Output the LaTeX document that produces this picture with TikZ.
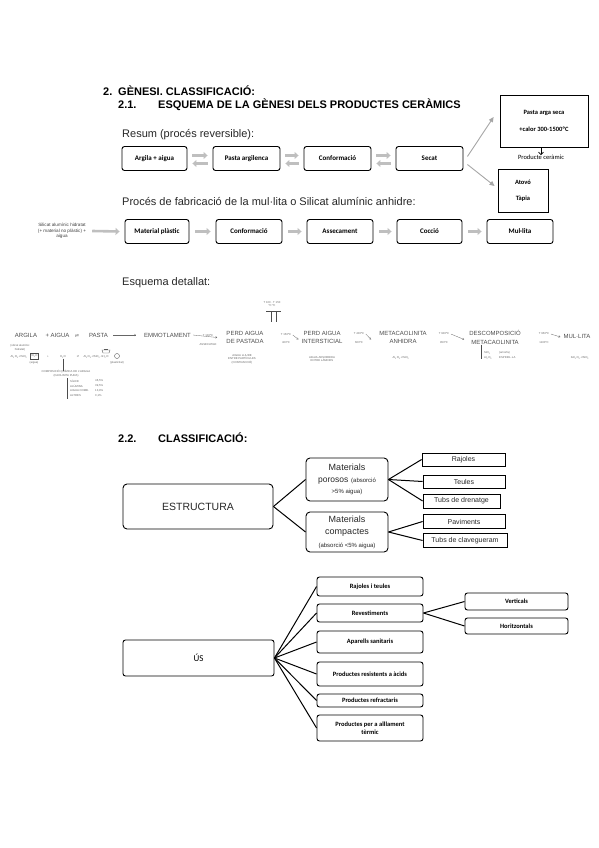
\documentclass[tikz,border=0pt]{standalone}
\usepackage{fontspec}
\setmainfont{Liberation Sans}
\newfontfamily\calf{Carlito}
\newfontfamily\djv{DejaVu Sans}
\usetikzlibrary{arrows.meta}
\begin{document}
\begin{tikzpicture}[x=1pt,y=-1pt,
  pbox/.style={draw, line width=0.9pt, rounded corners=2.5pt, inner sep=1pt, align=center, font=\calf\bfseries\fontsize{7}{8}\selectfont},
  sbox/.style={draw, line width=0.8pt, inner sep=1pt, align=center, font=\calf\bfseries\fontsize{6.5}{8}\selectfont},
  garr/.style={draw=black!25, line width=2.6pt, -{Triangle[length=4pt,width=7pt]}},
  darr/.style={draw=black!35, line width=0.9pt, -{Triangle[length=5pt,width=4.5pt]}},
  hd/.style={anchor=base west, inner sep=0pt, font=\bfseries\fontsize{11}{13}\selectfont},
  para/.style={anchor=base west, inner sep=0pt, font=\fontsize{11}{13}\selectfont, text=black!85},
  dw/.style={align=center, font=\fontsize{6}{8.5}\selectfont, text=black!70, inner sep=0pt},
  tw/.style={align=center, font=\fontsize{2.8}{3.6}\selectfont, text=black!60, inner sep=0pt},
  tarr/.style={draw=black!60, line width=0.3pt, -{Straight Barb[length=1.5pt,width=2pt]}},
  cbox/.style={draw, line width=0.9pt, rounded corners=4pt, align=center, inner sep=1pt, text=black!85},
  lbox/.style={draw, line width=0.8pt, align=center, inner sep=1pt, font=\fontsize{7}{8}\selectfont, text=black!85},
  ubox/.style={draw, line width=0.9pt, rounded corners=2.5pt, align=center, inner sep=1pt, font=\calf\bfseries\fontsize{6.5}{8}\selectfont},
  conn/.style={draw, line width=1pt},
]
\useasboundingbox (0,0) rectangle (599,848);

% ---------- headings ----------
\node[hd] (h1n) at (103,96) {2.};
\node[hd] (h1) at (118,96) {GÈNESI. CLASSIFICACIÓ:};
\node[hd] (h2n) at (118,109) {2.1.};
\node[hd] (h2) at (158,109) {ESQUEMA DE LA GÈNESI DELS PRODUCTES CERÀMICS};
\node[para] (r1) at (122,138) {Resum (procés reversible):};

% ---------- row 1 ----------
\node[pbox, minimum width=65pt, minimum height=24pt] (a1) at (154.5,158.5) {Argila + aigua};
\node[pbox, minimum width=67pt, minimum height=24pt] (a2) at (246.5,158.5) {Pasta argilenca};
\node[pbox, minimum width=67pt, minimum height=24pt] (a3) at (337.5,158.5) {Conformació};
\node[pbox, minimum width=67pt, minimum height=24pt] (a4) at (429.5,158.5) {Secat};
\foreach \u/\v in {a1/a2,a2/a3,a3/a4}{
  \draw[garr] ([xshift=5pt,yshift=3pt]\u.east) -- ([xshift=-5pt,yshift=3pt]\v.west);
  \draw[garr] ([xshift=-5pt,yshift=-5pt]\v.west) -- ([xshift=5pt,yshift=-5pt]\u.east);
}
\node[sbox, minimum width=88pt, minimum height=52pt] (p1) at (544,121) {Pasta arga seca\\[9pt]+calor 300-1500ºC};
\node[inner sep=0pt, font=\calf\fontsize{6.5}{7}\selectfont] (p2) at (541,157.5) {Producte ceràmic};
\draw[line width=0.6pt, -{Straight Barb[length=2.5pt,width=5pt]}] (p1.south -| p2.north) -- (p2.north);
\node[sbox, minimum width=50pt, minimum height=43pt] (p3) at (523,191) {Atovó\\[8pt]Tàpia};
\draw[darr] ([xshift=4pt,yshift=2pt]a4.east) -- ([xshift=-6pt,yshift=4pt]p1.west);
\draw[darr] ([xshift=4pt,yshift=-6pt]a4.east) -- ([xshift=-3pt,yshift=5pt]p3.west);

% ---------- row 2 ----------
\node[para] (r2) at (122,205) {Procés de fabricació de la mul·lita o Silicat alumínic anhidre:};
\node[align=center, inner sep=0pt, text=black!75, font=\fontsize{4.6}{5.6}\selectfont] (s0) at (62,231) {Silicat alumínic hidratat\\(+ material no plàstic) +\\aigua};
\node[pbox, minimum width=64pt, minimum height=24pt] (b1) at (157,231.5) {Material plàstic};
\node[pbox, minimum width=66pt, minimum height=24pt] (b2) at (249,231.5) {Conformació};
\node[pbox, minimum width=66pt, minimum height=24pt] (b3) at (340,231.5) {Assecament};
\node[pbox, minimum width=65pt, minimum height=24pt] (b4) at (429.5,231.5) {Cocció};
\node[pbox, minimum width=66pt, minimum height=24pt] (b5) at (520,231.5) {Mul·lita};
\draw[garr] ([xshift=6pt]s0.east) -- ([xshift=-5pt]b1.west);
\foreach \u/\v in {b1/b2,b2/b3,b3/b4,b4/b5}{
  \draw[garr] ([xshift=6pt]\u.east) -- ([xshift=-5pt]\v.west);
}

% ---------- detailed scheme ----------
\node[para] (r3) at (122,285) {Esquema detallat:};
\node[dw] (d1) at (26,335) {ARGILA};
\node[dw] (d2) at (57.5,335) {+ AIGUA};
\node[inner sep=0pt, text=black!60, font=\djv\fontsize{5}{6}\selectfont] (deq) at (77,335.5) {⇌};
\node[dw] (d3) at (98.5,335) {PASTA};
\node[dw] (d4) at (167.5,335) {EMMOTLAMENT};
\node[dw] (d5) at (245,337.5) {PERD AIGUA\\DE PASTADA};
\node[dw] (d6) at (322,337.5) {PERD AIGUA\\INTERSTICIAL};
\node[dw] (d7) at (403,337.5) {METACAOLINITA\\ANHIDRA};
\node[dw] (d8) at (495,337.5) {DESCOMPOSICIÓ\\METACAOLINITA};
\node[dw] (d9) at (577,336) {MUL·LITA};
\draw[tarr] ([xshift=5pt]d3.east) -- ([xshift=-8pt]d4.west);
% transition labels
\node[tw] (k1a) at (208,335.5) {T 100ºC};
\node[tw] (k1b) at (208,345) {ASSECATGE};
\draw[tarr] ([xshift=2pt]d4.east) -- ([xshift=-9pt]d5.west);
\node[tw] (k2a) at (286,335) {T 150ºC};
\node[tw] (k2b) at (286,343) {400ºC};
\draw[tarr] ([xshift=1.5pt]k2a.east) -- ([xshift=-3pt,yshift=-2pt]d6.west);
\node[tw] (k3a) at (359,334) {T 400ºC};
\node[tw] (k3b) at (359,343) {600ºC};
\draw[tarr] ([xshift=1.5pt]k3a.east) -- ([xshift=-8pt,yshift=-2pt]d7.west);
\node[tw] (k4a) at (444,334) {T 900ºC};
\node[tw] (k4b) at (444,343) {950ºC};
\draw[tarr] ([xshift=1.5pt]k4a.east) -- ([xshift=-5pt,yshift=-2pt]d8.west);
\node[tw] (k5a) at (544,334) {T 950ºC};
\node[tw] (k5b) at (544,343) {1100ºC};
\draw[tarr] ([xshift=1.5pt]k5a.east) -- ([xshift=-3pt,yshift=-1pt]d9.west);
% T-shaped mark above
\node[tw] (tq) at (272,304) {T 100 · T 150\\ºC ºC};
\coordinate (tb1) at (266,311);
\coordinate (tb2) at (281,311);
\draw[line width=0.5pt, black!70] (tb1) -- (tb2);
\draw[line width=0.5pt, black!70] (271,311) -- (271,322) (276,311) -- (276,322);
% under ARGILA
\node[tw] (u1) at (20,348) {(silicat alumínic\\hidratat)};
\node[tw] (u2) at (19,357) {Al\textsubscript{2}O\textsubscript{3}·2SiO\textsubscript{2}};
\node[draw=black!70, line width=0.4pt, minimum width=8pt, minimum height=6pt, inner sep=0pt, tw] (u3) at (34,356.5) {2H\textsubscript{2}O};
\node[tw] (u3b) at (34,363) {(aigua)};
\node[tw] (u4) at (48,357) {+};
\node[tw] (u5) at (63,357) {H\textsubscript{2}O};
\node[tw, font=\djv\fontsize{2.8}{3.6}\selectfont] (u6) at (78,357) {⇌};
\node[tw] (u7) at (96,357) {Al\textsubscript{2}O\textsubscript{3}·2SiO\textsubscript{2}·nH\textsubscript{2}O};
\draw[black!65, line width=0.4pt] (102,350) -- (110,350) -- (109,353) -- (103,353) -- cycle;
\draw[black!65, line width=0.4pt] (104,349) -- (108,349);
\node[draw=black!65, circle, line width=0.4pt, minimum size=5pt, inner sep=0pt] (u8) at (117,356) {};
\node[tw] (u8b) at (117,363) {(plasticitat)};
\draw[black!70, line width=0.5pt] (u5.south) -- ++(0,12) coordinate (u9);
\node[tw] (u10) at (66,373.5) {COMPOSICIÓ QUÍMICA DE L'ARGILA\\(CAOLINITA PURA)};
\coordinate (v1) at (67,378);
\coordinate (v2) at (67,399);
\draw[black!70, line width=0.6pt] (v1) -- (v2);
\foreach \yy/\aa/\bb in {381/SÍLICE/46{,}5\%,386/ALÚMINA/39{,}5\%,391/AIGUA COMB./13{,}9\%,396/ALTRES/0{,}1\%}{
  \node[tw, anchor=west] at (70,\yy) {\aa};
  \node[tw, anchor=west] at (95,\yy) {\bb};
}
% under others
\node[tw] (w1) at (242,359) {AIGUA LLIURE\\ENTRE PARTÍCULES\\(CONTRACCIÓ)};
\node[tw] (w2) at (322,359) {AIGUA ADSORBIDA\\ENTRE LÀMINES};
\node[tw] (w3) at (401,357.5) {Al\textsubscript{2}O\textsubscript{3}·2SiO\textsubscript{2}};
\draw[black!70, line width=0.5pt] ([xshift=-14pt]d8.south) -- ++(0,14);
\node[tw, anchor=west] (w4) at (484,353) {SiO\textsubscript{2}};
\node[tw, anchor=west] (w5) at (484,357.5) {Al\textsubscript{2}O\textsubscript{3}};
\node[tw, anchor=west] (w6) at (499,353) {(amorfa)};
\node[tw, anchor=west] (w7) at (499,357.5) {ESPINEL·LA};
\node[tw] (w8) at (580,358) {3Al\textsubscript{2}O\textsubscript{3}·2SiO\textsubscript{2}};

% ---------- classification ----------
\node[hd] (h3n) at (118,442) {2.2.};
\node[hd] (h3) at (158,442) {CLASSIFICACIÓ:};

\node[cbox, minimum width=150pt, minimum height=45pt, font=\fontsize{10.5}{12}\selectfont] (e0) at (198,506.5) {ESTRUCTURA};
\node[cbox, minimum width=82pt, minimum height=43pt] (e1) at (347,479.5)
  {{\fontsize{9}{9.5}\selectfont Materials}\\{\fontsize{8.5}{8}\selectfont porosos} {\fontsize{6}{6}\selectfont (absorció}\\[-1pt]{\fontsize{6}{6}\selectfont >5\% aigua)}};
\node[cbox, minimum width=82pt, minimum height=40pt] (e2) at (347,532)
  {{\fontsize{9}{9.5}\selectfont Materials}\\{\fontsize{9}{9.5}\selectfont compactes}\\[1pt]{\fontsize{6}{6}\selectfont (absorció <5\% aigua)}};
\node[lbox, minimum width=83pt, minimum height=13pt] (l1) at (463.5,459.5) {Rajoles};
\node[lbox, minimum width=82pt, minimum height=13pt] (l2) at (464,481.5) {Teules};
\node[lbox, minimum width=77pt, minimum height=14pt] (l3) at (461.5,501) {Tubs de drenatge};
\node[lbox, minimum width=82pt, minimum height=14pt] (l4) at (464,521.5) {Paviments};
\node[lbox, minimum width=84pt, minimum height=14pt] (l5) at (465,540.5) {Tubs de clavegueram};
\draw[conn] (e0.east) -- (e1.west);
\draw[conn] (e0.east) -- (e2.west);
\foreach \t in {l1,l2,l3}{\draw[conn] (e1.east) -- (\t.west);}
\foreach \t in {l4,l5}{\draw[conn] (e2.east) -- (\t.west);}

% ---------- use ----------
\node[ubox, minimum width=151pt, minimum height=36pt, font=\calf\fontsize{9}{10}\selectfont] (s) at (198.5,658) {ÚS};
\node[ubox, minimum width=106pt, minimum height=19pt] (m1) at (370,586.5) {Rajoles i teules};
\node[ubox, minimum width=106pt, minimum height=18pt] (m2) at (370,613) {Revestiments};
\node[ubox, minimum width=106pt, minimum height=22pt] (m3) at (370,642) {Aparells sanitaris};
\node[ubox, minimum width=106pt, minimum height=24pt] (m4) at (370,674) {Productes resistents a àcids};
\node[ubox, minimum width=106pt, minimum height=13pt] (m5) at (370,700.5) {Productes refractaris};
\node[ubox, minimum width=106pt, minimum height=26pt] (m6) at (370,728) {Productes per a aïllament\\tèrmic};
\node[ubox, minimum width=103pt, minimum height=17pt] (n1) at (516.5,601.5) {Verticals};
\node[ubox, minimum width=103pt, minimum height=16pt] (n2) at (516.5,626) {Horitzontals};
\foreach \t in {m1,m2,m3,m4,m5,m6}{\draw[conn] (s.east) -- (\t.west);}
\draw[conn] (m2.east) -- (n1.west);
\draw[conn] (m2.east) -- (n2.west);
\end{tikzpicture}
\end{document}
